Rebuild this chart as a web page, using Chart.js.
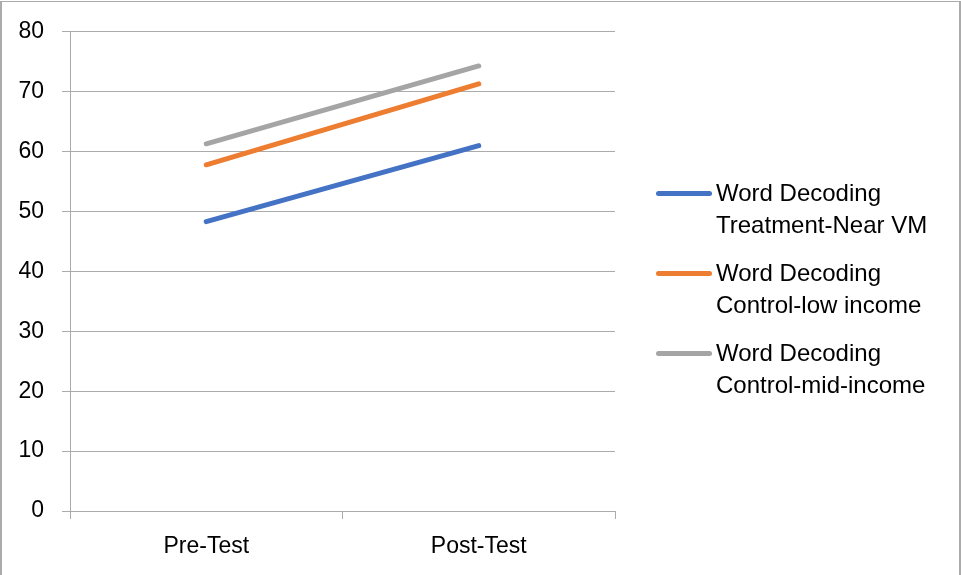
<!DOCTYPE html>
<html>
<head>
<meta charset="utf-8">
<script src="https://cdn.jsdelivr.net/npm/chart.js@4/dist/chart.umd.min.js"></script>
<style>
  html, body { margin: 0; padding: 0; background: #fff; }
  body { width: 961px; height: 575px; overflow: hidden; position: relative; font-family: "Liberation Sans", Arial, sans-serif; }
  #frame { position: absolute; left: 0; top: 1px; width: 957px; height: 600px; border-left: 2px solid #ababab; border-top: 1px solid #ababab; border-right: 2px solid #ababab; }
  #wrap { position: absolute; left: 0; top: 0; width: 961px; height: 575px; }
  #legend { position: absolute; left: 656px; top: 0; }
  .item { position: absolute; left: 0; width: 300px; }
  .swatch { position: absolute; left: 0; width: 56px; height: 5px; border-radius: 3px; }
  .txt { position: absolute; left: 60px; font-size: 24px; line-height: 32px; color: #000; white-space: nowrap; }
</style>
</head>
<body>
<div id="frame"></div>
<div id="wrap"><canvas id="c" width="961" height="575"></canvas></div>
<div id="legend"></div>
<script>
const categories = ["Pre-Test", "Post-Test"];
const seriesNames = [
  ["Word Decoding", "Treatment-Near VM"],
  ["Word Decoding", "Control-low income"],
  ["Word Decoding", "Control-mid-income"]
];
const treatmentNearVM = [48.3, 61.0];
const controlLowIncome = [57.8, 71.3];
const controlMidIncome = [61.3, 74.3];
const seriesColors = ["#4472C4", "#ED7D31", "#A5A5A5"];
const yTicks = [0, 10, 20, 30, 40, 50, 60, 70, 80];

const seriesValues = [treatmentNearVM, controlLowIncome, controlMidIncome];

const datasets = seriesValues.map((vals, i) => ({
  label: seriesNames[i].join(" "),
  data: vals,
  borderColor: seriesColors[i],
  backgroundColor: seriesColors[i],
  borderWidth: 5,
  borderCapStyle: "round",
  pointRadius: 0,
  pointHoverRadius: 0,
  tension: 0
}));

const gridColor = "#ababab";
const fontSpec = { family: "'Liberation Sans', Arial, sans-serif", size: 23 };

new Chart(document.getElementById("c"), {
  type: "line",
  data: { labels: categories, datasets },
  options: {
    responsive: false,
    animation: false,
    events: [],
    layout: { padding: { top: 31, right: 961 - 615, left: 0, bottom: 0 } },
    plugins: { legend: { display: false }, tooltip: { enabled: false } },
    scales: {
      x: {
        type: "category",
        offset: true,
        grid: { offset: true, drawOnChartArea: false, drawTicks: true, tickLength: 8, color: gridColor, lineWidth: 1 },
        border: { display: true, color: gridColor, width: 1 },
        ticks: { color: "#000", font: fontSpec, padding: 14, maxRotation: 0 },
        afterFit: (s) => { s.height = 575 - 511; }
      },
      y: {
        min: 0, max: 80,
        afterBuildTicks: (s) => { s.ticks = yTicks.map(v => ({ value: v })); },
        grid: { drawOnChartArea: true, drawTicks: true, tickLength: 8, color: gridColor, lineWidth: 1 },
        border: { display: true, color: gridColor, width: 1 },
        ticks: { color: "#000", font: fontSpec, padding: 18 },
        afterFit: (s) => { s.width = 70; }
      }
    }
  }
});

// HTML legend built from the series definitions
const legend = document.getElementById("legend");
const legendRowY = [193, 273, 353];
seriesNames.forEach((lines, i) => {
  const item = document.createElement("div");
  item.className = "item";
  item.style.top = (legendRowY[i] - 16) + "px";
  const sw = document.createElement("div");
  sw.className = "swatch";
  sw.style.background = seriesColors[i];
  sw.style.top = "14px";
  const t = document.createElement("div");
  t.className = "txt";
  t.style.top = "0px";
  t.innerHTML = lines.map(l => l.replace(/&/g, "&amp;").replace(/</g, "&lt;")).join("<br>");
  item.appendChild(sw);
  item.appendChild(t);
  legend.appendChild(item);
});
</script>
</body>
</html>
